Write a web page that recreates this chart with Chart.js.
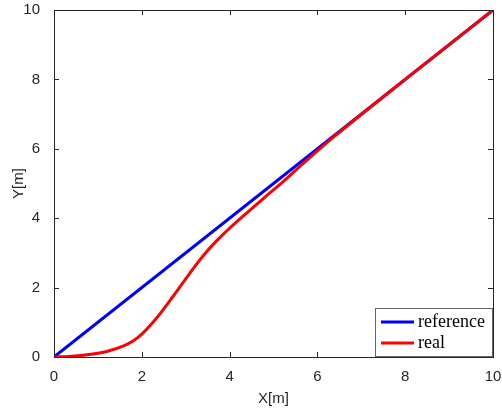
<!DOCTYPE html>
<html>
<head>
<meta charset="utf-8">
<script src="https://cdn.jsdelivr.net/npm/chart.js@4"></script>
<style>
  html, body { margin: 0; padding: 0; background: #fff; }
  #wrap { width: 502px; height: 408px; }
</style>
</head>
<body>
<div id="wrap"><canvas id="chart" width="502" height="408"></canvas></div>
<script>
// reference path (straight line)
const refX = [0, 10];
const refY = [0, 10];

// real path
const realX = [0, 0.4, 0.8, 1.2, 1.6, 1.8, 2.0, 2.2, 2.4, 2.8, 3.2, 3.4, 3.6, 3.8, 4.0, 4.4, 4.8, 5.2, 5.6, 6.0, 6.4, 8, 10];
const realY = [0, 0.02, 0.07, 0.16, 0.33, 0.46, 0.66, 0.92, 1.22, 1.9, 2.6, 2.92, 3.21, 3.47, 3.71, 4.16, 4.6, 5.03, 5.49, 5.94, 6.37, 8, 10];

const tickLabels = [0, 2, 4, 6, 8, 10];

const toPoints = (xs, ys) => xs.map((x, i) => ({ x: x, y: ys[i] }));

const axisColor = "#262626";

// box, inward ticks and legend, matlab style
const boxPlugin = {
  id: "box",
  afterDraw(chart) {
    const c = chart.ctx;
    const a = chart.chartArea;
    const xs = chart.scales.x;
    const ys = chart.scales.y;
    c.save();
    c.strokeStyle = axisColor;
    c.lineWidth = 1;
    c.strokeRect(Math.round(a.left) + 0.5, Math.round(a.top) + 0.5,
      Math.round(a.right - a.left), Math.round(a.bottom - a.top));
    c.beginPath();
    tickLabels.forEach((t) => {
      const px = Math.round(xs.getPixelForValue(t)) + 0.5;
      c.moveTo(px, a.bottom); c.lineTo(px, a.bottom - 5);
      c.moveTo(px, a.top); c.lineTo(px, a.top + 5);
      const py = Math.round(ys.getPixelForValue(t)) + 0.5;
      c.moveTo(a.left, py); c.lineTo(a.left + 5, py);
      c.moveTo(a.right, py); c.lineTo(a.right - 5, py);
    });
    c.stroke();

    // legend in the lower right corner
    const bx = 375.5, by = 308.5, bw = 117, bh = 48;
    c.fillStyle = "#fff";
    c.fillRect(bx, by, bw, bh);
    c.strokeStyle = "#666";
    c.strokeRect(bx, by, bw, bh);
    const items = [
      { label: "reference", color: "#0000ff", y: 322 },
      { label: "real", color: "#ff0000", y: 343 },
    ];
    c.font = "18px 'Liberation Serif', serif";
    c.textBaseline = "middle";
    items.forEach((it) => {
      c.strokeStyle = it.color;
      c.lineWidth = 3;
      c.beginPath();
      c.moveTo(381, it.y); c.lineTo(414, it.y);
      c.stroke();
      c.fillStyle = "#000";
      c.fillText(it.label, 418, it.y);
    });
    c.restore();
  },
};

const tickFont = { family: "'Liberation Sans', Arial, sans-serif", size: 15 };

// no extra room for overhanging tick labels, the plot box is fixed
const noOverhang = (s) => {
  s.paddingTop = 0;
  s.paddingBottom = 0;
  s.paddingLeft = 0;
  s.paddingRight = 0;
};

const chart = new Chart(document.getElementById("chart"), {
  type: "line",
  data: {
    datasets: [
      {
        label: "real",
        data: toPoints(realX, realY),
        borderColor: "#ff0000",
        borderWidth: 3,
        pointRadius: 0,
        cubicInterpolationMode: "monotone",
        fill: false,
        order: 0,
      },
      {
        label: "reference",
        data: toPoints(refX, refY),
        borderColor: "#0000ff",
        borderWidth: 3,
        pointRadius: 0,
        fill: false,
        order: 1,
      },
    ],
  },
  options: {
    responsive: false,
    animation: false,
    layout: { padding: { left: 0, top: 10, right: 9, bottom: 0 } },
    plugins: {
      legend: { display: false },
      tooltip: { enabled: false },
    },
    scales: {
      x: {
        type: "linear",
        min: 0,
        max: 10,
        afterBuildTicks: (s) => { s.ticks = tickLabels.map((v) => ({ value: v })); },
        afterFit: (s) => { s.height = 51; noOverhang(s); },
        grid: { display: false },
        border: { display: false },
        ticks: { color: axisColor, font: tickFont, padding: 3, maxRotation: 0 },
        title: {
          display: true,
          text: "X[m]",
          color: axisColor,
          font: tickFont,
          padding: { top: 2, bottom: 0 },
        },
      },
      y: {
        type: "linear",
        min: 0,
        max: 10,
        afterBuildTicks: (s) => { s.ticks = tickLabels.map((v) => ({ value: v })); },
        afterFit: (s) => { s.width = 54; noOverhang(s); },
        grid: { display: false },
        border: { display: false },
        ticks: { color: axisColor, font: tickFont, padding: 6 },
        title: {
          display: true,
          text: "Y[m]",
          color: axisColor,
          font: tickFont,
          padding: { top: 10, bottom: 0 },
        },
      },
    },
  },
  plugins: [boxPlugin],
});
</script>
</body>
</html>
